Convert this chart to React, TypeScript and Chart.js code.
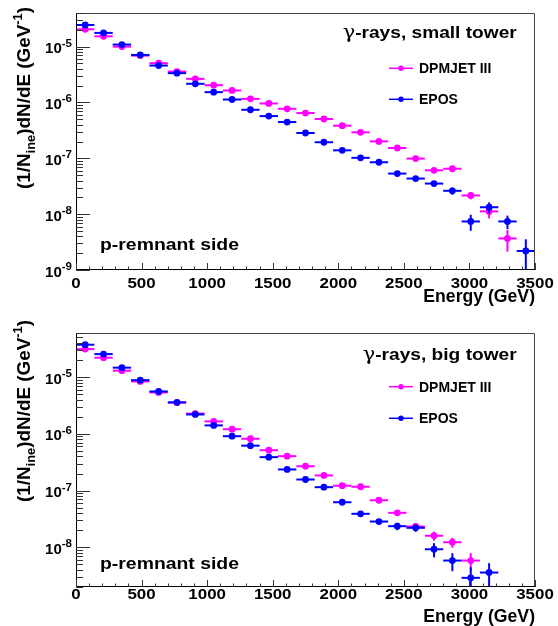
import React, { useEffect, useRef } from "react";
import { Chart, registerables } from "chart.js";

Chart.register(...registerables);

const FONT = '"Liberation Sans", Arial, Helvetica, sans-serif';
const MAGENTA = "#ff00ff";
const BLUE = "#0000ff";

// 25 energy bins of 140 GeV width
const binCenters = [70, 210, 350, 490, 630, 770, 910, 1050, 1190, 1330, 1470, 1610, 1750, 1890, 2030, 2170, 2310, 2450, 2590, 2730, 2870, 3010, 3150, 3290, 3430];
const binHalfWidth = 70;
const xTickLabels = [0, 500, 1000, 1500, 2000, 2500, 3000, 3500];

// small tower
const smallDpmjet = [2.04e-5, 1.53e-5, 1.0e-5, 6.9e-6, 5.05e-6, 3.58e-6, 2.65e-6, 2.04e-6, 1.64e-6, 1.16e-6, 9.6e-7, 7.7e-7, 6.46e-7, 5.06e-7, 3.84e-7, 2.92e-7, 2.01e-7, 1.53e-7, 9.9e-8, 6.1e-8, 6.5e-8, 2.16e-8, 1.12e-8, 3.68e-9, null];
const smallDpmjetRelErr = [0.02, 0.02, 0.02, 0.02, 0.02, 0.03, 0.03, 0.03, 0.03, 0.03, 0.04, 0.04, 0.04, 0.05, 0.05, 0.05, 0.06, 0.06, 0.07, 0.08, 0.08, 0.15, 0.25, 0.42, 0];
const smallEpos = [2.44e-5, 1.76e-5, 1.09e-5, 7.1e-6, 4.58e-6, 3.35e-6, 2.16e-6, 1.53e-6, 1.13e-6, 7.4e-7, 5.7e-7, 4.46e-7, 2.84e-7, 1.94e-7, 1.39e-7, 1.02e-7, 8.5e-8, 5.33e-8, 4.34e-8, 3.53e-8, 2.62e-8, 7.4e-9, 1.33e-8, 7.4e-9, 2.19e-9];
const smallEposRelErr = [0.02, 0.02, 0.02, 0.02, 0.03, 0.03, 0.03, 0.04, 0.04, 0.04, 0.05, 0.05, 0.06, 0.06, 0.07, 0.07, 0.08, 0.08, 0.09, 0.1, 0.15, 0.32, 0.22, 0.27, 0.62];

// big tower
const bigDpmjet = [3.12e-5, 2.2e-5, 1.3e-5, 8.4e-6, 5.37e-6, 3.55e-6, 2.28e-6, 1.66e-6, 1.21e-6, 8.2e-7, 5.16e-7, 4.05e-7, 2.69e-7, 1.85e-7, 1.22e-7, 1.17e-7, 6.76e-8, 4.06e-8, 2.33e-8, 1.6e-8, 1.23e-8, 5.85e-9, null, null, null];
const bigDpmjetRelErr = [0.02, 0.02, 0.02, 0.02, 0.02, 0.03, 0.03, 0.03, 0.03, 0.04, 0.04, 0.04, 0.05, 0.05, 0.05, 0.06, 0.06, 0.08, 0.15, 0.18, 0.2, 0.35, 0, 0, 0];
const bigEpos = [3.73e-5, 2.55e-5, 1.47e-5, 8.85e-6, 5.6e-6, 3.6e-6, 2.2e-6, 1.41e-6, 9.1e-7, 6.2e-7, 3.89e-7, 2.36e-7, 1.57e-7, 1.15e-7, 6.24e-8, 3.9e-8, 2.85e-8, 2.36e-8, 2.21e-8, 9.25e-9, 5.85e-9, 2.9e-9, 3.6e-9, null, null];
const bigEposRelErr = [0.02, 0.02, 0.02, 0.02, 0.02, 0.03, 0.03, 0.03, 0.04, 0.04, 0.05, 0.05, 0.06, 0.06, 0.07, 0.08, 0.1, 0.15, 0.15, 0.28, 0.35, 0.54, 0.46, 0, 0];

type Run = { t: string; size: number; dy?: number; weight?: string; family?: string };

function drawRuns(ctx: CanvasRenderingContext2D, runs: Run[], x: number, y: number, align: "left" | "right" | "center", targetWidth?: number) {
  const ws: number[] = [];
  let w = 0;
  for (const r of runs) {
    ctx.font = `${r.weight ?? "bold"} ${r.size}px ${r.family ?? FONT}`;
    const m = ctx.measureText(r.t).width;
    ws.push(m);
    w += m;
  }
  const sx = targetWidth ? targetWidth / w : 1;
  const total = w * sx;
  const start = align === "left" ? x : align === "right" ? x - total : x - total / 2;
  ctx.save();
  ctx.translate(start, y);
  ctx.scale(sx, 1);
  ctx.textAlign = "left";
  ctx.textBaseline = "alphabetic";
  let cx = 0;
  runs.forEach((r, i) => {
    ctx.font = `${r.weight ?? "bold"} ${r.size}px ${r.family ?? FONT}`;
    ctx.fillText(r.t, cx, r.dy ?? 0);
    cx += ws[i];
  });
  ctx.restore();
}

type Panel = {
  title: string;
  titleWidth: number;
  dpm: (number | null)[];
  dpmErr: number[];
  epos: (number | null)[];
  eposErr: number[];
  yMin: number;
  yMax: number;
  off: number; // canvas top in page
  padding: { left: number; right: number; top: number; bottom: number };
  titleY: number;
  legY1: number;
  legY2: number;
  remY: number;
  xLabY: number;
  xTitleY: number;
  yTitleY: number;
};

const panels: Panel[] = [
  {
    title: "small tower",
    titleWidth: 174,
    dpm: smallDpmjet,
    dpmErr: smallDpmjetRelErr,
    epos: smallEpos,
    eposErr: smallEposRelErr,
    yMin: 1e-9,
    yMax: 4e-5,
    off: 0,
    padding: { left: 76, right: 23, top: 13, bottom: 43 },
    titleY: 37.5,
    legY1: 68.3,
    legY2: 99.3,
    remY: 249.5,
    xLabY: 287.5,
    xTitleY: 302,
    yTitleY: 98,
  },
  {
    title: "big tower",
    titleWidth: 154,
    dpm: bigDpmjet,
    dpmErr: bigDpmjetRelErr,
    epos: bigEpos,
    eposErr: bigEposRelErr,
    yMin: 2e-9,
    yMax: 6e-5,
    off: 313,
    padding: { left: 76, right: 23, top: 20, bottom: 39 },
    titleY: 360,
    legY1: 386.7,
    legY2: 418.3,
    remY: 568.5,
    xLabY: 599,
    xTitleY: 622,
    yTitleY: 411,
  },
];

function makePlugin(p: Panel) {
  const errs = [p.eposErr, p.dpmErr];
  const vals = [p.epos, p.dpm];
  const cols = [BLUE, MAGENTA];
  return {
    id: "rootDecor",
    beforeDatasetDraw(chart: any, args: any) {
      const i = args.index;
      const ctx: CanvasRenderingContext2D = chart.ctx;
      const xs = chart.scales.x;
      const ys = chart.scales.y;
      const ca = chart.chartArea;
      ctx.save();
      ctx.beginPath();
      ctx.rect(ca.left, ca.top, ca.right - ca.left, ca.bottom - ca.top);
      ctx.clip();
      ctx.strokeStyle = cols[i];
      ctx.lineWidth = 2;
      vals[i].forEach((v, k) => {
        if (v == null) return;
        const c = binCenters[k];
        const py = ys.getPixelForValue(v);
        ctx.beginPath();
        ctx.moveTo(xs.getPixelForValue(c - binHalfWidth), py);
        ctx.lineTo(xs.getPixelForValue(c + binHalfWidth), py);
        ctx.stroke();
        const e = v * errs[i][k];
        if (e > 0) {
          const px = xs.getPixelForValue(c);
          const lo = v - e;
          const yHi = ys.getPixelForValue(v + e);
          const yLo = lo > 0 ? ys.getPixelForValue(lo) : ca.bottom + 5;
          ctx.beginPath();
          ctx.moveTo(px, yHi);
          ctx.lineTo(px, yLo);
          ctx.stroke();
        }
      });
      ctx.restore();
    },
    afterDraw(chart: any) {
      const ctx: CanvasRenderingContext2D = chart.ctx;
      const xs = chart.scales.x;
      const ys = chart.scales.y;
      const ca = chart.chartArea;
      const o = p.off;
      ctx.save();
      // frame
      ctx.lineWidth = 1;
      ctx.strokeStyle = "#444";
      ctx.beginPath();
      ctx.moveTo(ca.left, ca.top + 0.5);
      ctx.lineTo(ca.right - 0.5, ca.top + 0.5);
      ctx.lineTo(ca.right - 0.5, ca.bottom);
      ctx.stroke();
      ctx.strokeStyle = "#000";
      ctx.beginPath();
      ctx.moveTo(ca.left + 0.5, ca.top);
      ctx.lineTo(ca.left + 0.5, ca.bottom - 0.5);
      ctx.lineTo(ca.right, ca.bottom - 0.5);
      ctx.stroke();
      // x ticks
      ctx.strokeStyle = "#333";
      for (let v = 0; v <= 3500; v += 100) {
        const px = Math.round(xs.getPixelForValue(v)) + 0.5;
        const len = v % 500 === 0 ? 7 : 3.5;
        ctx.beginPath();
        ctx.moveTo(px, ca.bottom);
        ctx.lineTo(px, ca.bottom - len);
        ctx.stroke();
      }
      // y ticks
      const dMin = Math.floor(Math.log10(p.yMin));
      const dMax = Math.ceil(Math.log10(p.yMax));
      for (let d = dMin; d <= dMax; d++) {
        for (let m = 1; m <= 9; m++) {
          const v = m * Math.pow(10, d);
          if (v < p.yMin * 0.999 || v > p.yMax * 1.001) continue;
          const py = Math.round(ys.getPixelForValue(v)) + 0.5;
          const len = m === 1 ? 14 : 7;
          ctx.beginPath();
          ctx.moveTo(ca.left, py);
          ctx.lineTo(ca.left + len, py);
          ctx.stroke();
        }
      }
      ctx.fillStyle = "#000";
      // y tick labels
      for (let d = Math.ceil(Math.log10(p.yMin) - 1e-9); d <= Math.floor(Math.log10(p.yMax)); d++) {
        const py = ys.getPixelForValue(Math.pow(10, d));
        drawRuns(ctx, [{ t: "10", size: 15 }, { t: String(d), size: 11.5, dy: -6.5 }], ca.left - 4, py + 6.5, "right");
      }
      // x tick labels
      xTickLabels.forEach((v) => {
        drawRuns(ctx, [{ t: String(v), size: 15.5 }], xs.getPixelForValue(v), p.xLabY - o, "center", String(v).length * 9.4);
      });
      // x title
      drawRuns(ctx, [{ t: "Energy (GeV)", size: 18 }], ca.right, p.xTitleY - o, "right", 111.7);
      // y title
      ctx.save();
      ctx.translate(30, p.yTitleY - o);
      ctx.rotate(-Math.PI / 2);
      drawRuns(
        ctx,
        [
          { t: "(1/N", size: 19 },
          { t: "ine", size: 13, dy: 5 },
          { t: ")dN/dE (GeV", size: 19 },
          { t: "-1", size: 13, dy: -8 },
          { t: ")", size: 19 },
        ],
        0,
        0,
        "center",
        182
      );
      ctx.restore();
      // title
      drawRuns(
        ctx,
        [
          { t: "\u03b3", size: 18, weight: "normal", family: '"DejaVu Serif", "Liberation Serif", serif' },
          { t: "-rays, " + p.title, size: 16.5 },
        ],
        516.7,
        p.titleY - o,
        "right",
        p.titleWidth
      );
      // legend
      const leg = [
        { y: p.legY1 - o, c: MAGENTA, t: "DPMJET III" },
        { y: p.legY2 - o, c: BLUE, t: "EPOS" },
      ];
      leg.forEach((l) => {
        ctx.strokeStyle = l.c;
        ctx.lineWidth = 1.5;
        ctx.beginPath();
        ctx.moveTo(389, l.y);
        ctx.lineTo(413, l.y);
        ctx.stroke();
        ctx.fillStyle = l.c;
        ctx.beginPath();
        ctx.arc(401, l.y, 2.7, 0, Math.PI * 2);
        ctx.fill();
        ctx.fillStyle = "#000";
        drawRuns(ctx, [{ t: l.t, size: 14 }], 419, l.y + 5, "left");
      });
      // p-remnant side
      drawRuns(ctx, [{ t: "p-remnant side", size: 17 }], 100, p.remY - o, "left", 139);
      ctx.restore();
    },
  };
}

function toPoints(vals: (number | null)[]) {
  const pts: { x: number; y: number }[] = [];
  vals.forEach((v, i) => {
    if (v != null) pts.push({ x: binCenters[i], y: v });
  });
  return pts;
}

function PanelChart({ p }: { p: Panel }) {
  const ref = useRef<HTMLCanvasElement | null>(null);
  useEffect(() => {
    if (!ref.current) return;
    const chart = new Chart(ref.current, {
      type: "scatter",
      data: {
        datasets: [
          {
            label: "EPOS",
            data: toPoints(p.epos),
            backgroundColor: BLUE,
            borderColor: BLUE,
            pointRadius: 3.4,
            pointBorderWidth: 0,
            showLine: false,
          },
          {
            label: "DPMJET III",
            data: toPoints(p.dpm),
            backgroundColor: MAGENTA,
            borderColor: MAGENTA,
            pointRadius: 3.4,
            pointBorderWidth: 0,
            showLine: false,
          },
        ],
      },
      options: {
        animation: false,
        responsive: false,
        devicePixelRatio: 1,
        layout: { padding: p.padding },
        plugins: { legend: { display: false }, tooltip: { enabled: false }, title: { display: false } },
        events: [],
        scales: {
          x: { type: "linear", min: 0, max: 3500, display: false },
          y: { type: "logarithmic", min: p.yMin, max: p.yMax, display: false },
        },
      },
      plugins: [makePlugin(p)],
    });
    return () => chart.destroy();
  }, [p]);
  return (
    <canvas
      ref={ref}
      width={558}
      height={313}
      style={{ position: "absolute", left: 0, top: p.off, width: 558, height: 313 }}
    />
  );
}

export default function App() {
  return (
    <div style={{ position: "absolute", left: 0, top: 0, width: 558, height: 626, background: "#fff" }}>
      {panels.map((p) => (
        <PanelChart key={p.title} p={p} />
      ))}
    </div>
  );
}
